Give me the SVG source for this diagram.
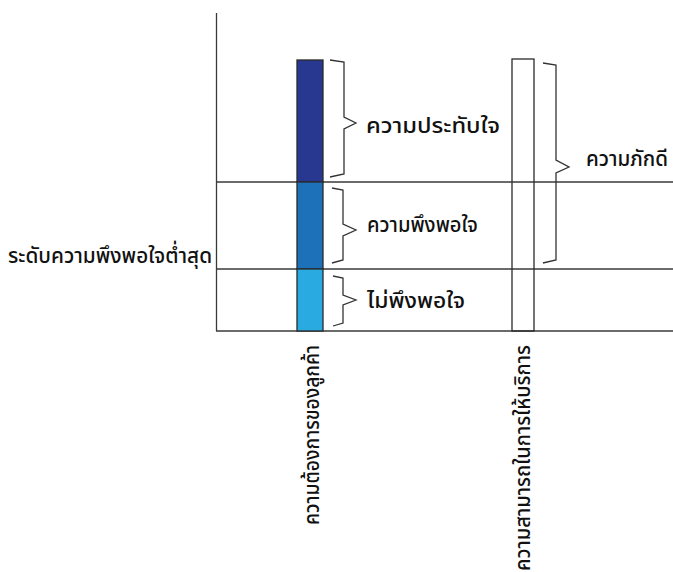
<svg xmlns="http://www.w3.org/2000/svg" width="673" height="572" viewBox="0 0 673 572">
<style>
.ln{stroke:#3a3a3a;stroke-width:1.3;fill:none}
.br{stroke:#333;stroke-width:1.3;fill:none;stroke-linejoin:miter}
.bar{stroke:#2a2a2a;stroke-width:1.3}
.t{font-family:"Noto Sans Thai","Tahoma","Leelawadee UI","Noto Sans","DejaVu Sans",sans-serif;font-size:22px;font-weight:500;fill:#111}
</style>
<rect width="673" height="572" fill="#fff"/>
<g id="axes">
<line class="ln" x1="216.5" y1="13" x2="216.5" y2="331"/>
<line class="ln" x1="216" y1="331" x2="673" y2="331"/>
<line class="ln" x1="216" y1="182" x2="673" y2="182"/>
<line class="ln" x1="216" y1="269" x2="673" y2="269"/>
</g>
<g id="bar-needs">
<rect class="bar" x="297" y="60" width="26" height="122" fill="#283891"/>
<rect class="bar" x="297" y="182" width="26" height="87" fill="#1c71b8"/>
<rect class="bar" x="297" y="269" width="26" height="62" fill="#29aae1"/>
</g>
<g id="bar-capability">
<rect class="bar" x="512" y="59" width="22" height="272" fill="none"/>
</g>
<g id="connectors">
<path class="br" d="M330,60 L344,62 L344,117 L356,123 L344,129 L344,174 L330,177"/>
<path class="br" d="M332,188 L343,190 L343,224 L356,230 L343,236 L343,260 L332,263"/>
<path class="br" d="M333,276 L343,278 L343,295 L356,300 L343,305 L343,323 L333,326"/>
<path class="br" d="M543,63 L556,65 L556,160 L569,167 L556,173 L556,260 L543,263"/>
</g>
<g id="label-impression"><text class="t" x="366" y="133" textLength="134" lengthAdjust="spacingAndGlyphs">ความประทับใจ</text></g>
<g id="label-satisfaction"><text class="t" x="367" y="232" textLength="111" lengthAdjust="spacingAndGlyphs">ความพึงพอใจ</text></g>
<g id="label-dissatisfied"><text class="t" x="367" y="308" textLength="98" lengthAdjust="spacingAndGlyphs">ไม่พึงพอใจ</text></g>
<g id="label-loyalty"><text class="t" x="586" y="166" textLength="82" lengthAdjust="spacingAndGlyphs">ความภักดี</text></g>
<g id="label-min"><text class="t" x="8" y="263" textLength="204" lengthAdjust="spacingAndGlyphs">ระดับความพึงพอใจต่ำสุด</text></g>
<g id="label-needs"><text class="t" transform="translate(319,525) rotate(-90)" x="0" y="0" textLength="180" lengthAdjust="spacingAndGlyphs">ความต้องการของลูกค้า</text></g>
<g id="label-capability"><text class="t" transform="translate(530,571) rotate(-90)" x="0" y="0" textLength="226" lengthAdjust="spacingAndGlyphs">ความสามารถในการให้บริการ</text></g>
</svg>
